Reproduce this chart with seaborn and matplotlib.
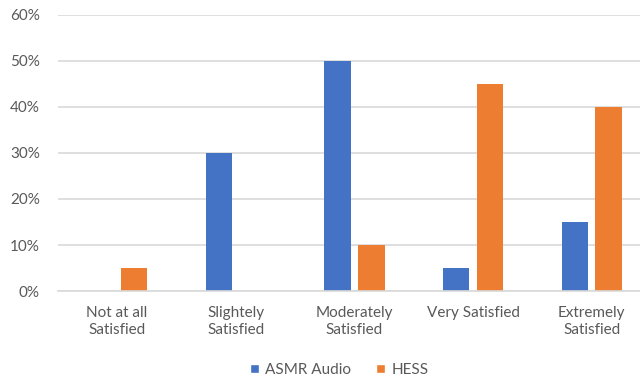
import matplotlib
matplotlib.use("Agg")
import matplotlib.pyplot as plt
from matplotlib.patches import Patch
from matplotlib.ticker import PercentFormatter
import seaborn as sns
import pandas as pd

categories = ["Not at all\nSatisfied", "Slightely\nSatisfied", "Moderately\nSatisfied",
              "Very Satisfied", "Extremely\nSatisfied"]
asmr_audio = [0, 30, 50, 5, 15]
hess = [5, 0, 10, 45, 40]
series_names = ["ASMR Audio", "HESS"]
colors = ["#4472C4", "#ED7D31"]

df = pd.DataFrame({
    "category": categories * 2,
    "series": [series_names[0]] * len(categories) + [series_names[1]] * len(categories),
    "value": asmr_audio + hess,
})

sns.set_style("white")
plt.rcParams["font.family"] = ["Lato", "DejaVu Sans"]

fig = plt.figure(figsize=(6.4, 3.8), dpi=100)
ax = fig.add_axes([0.0903, 0.234, 0.927, 0.727])

sns.barplot(data=df, x="category", y="value", hue="series", order=categories,
            hue_order=series_names, palette=colors, width=0.57, gap=0.22,
            saturation=1, linewidth=0, ax=ax, legend=False)

ax.set_ylim(0, 60)
ax.set_yticks(range(0, 61, 10))
ax.yaxis.set_major_formatter(PercentFormatter(decimals=0))
ax.grid(axis="y", color="#d9d9d9", linewidth=1.2)
ax.set_axisbelow(True)
for side in ["top", "right", "left"]:
    ax.spines[side].set_visible(False)
ax.spines["bottom"].set_color("#d9d9d9")
ax.spines["bottom"].set_linewidth(1.2)
ax.tick_params(axis="both", length=0, labelsize=11, labelcolor="#595959")
ax.tick_params(axis="x", pad=11)
ax.tick_params(axis="y", pad=13)
ax.set_xlabel("")
ax.set_ylabel("")

handles = [Patch(facecolor=c, label=n) for c, n in zip(colors, series_names)]
fig.legend(handles=handles, loc="center", bbox_to_anchor=(0.53, 0.027), ncol=2,
           frameon=False, fontsize=11, labelcolor="#595959",
           handlelength=0.6, handleheight=0.6, handletextpad=0.4, columnspacing=1.6)

fig.savefig("out.png", dpi=100)
